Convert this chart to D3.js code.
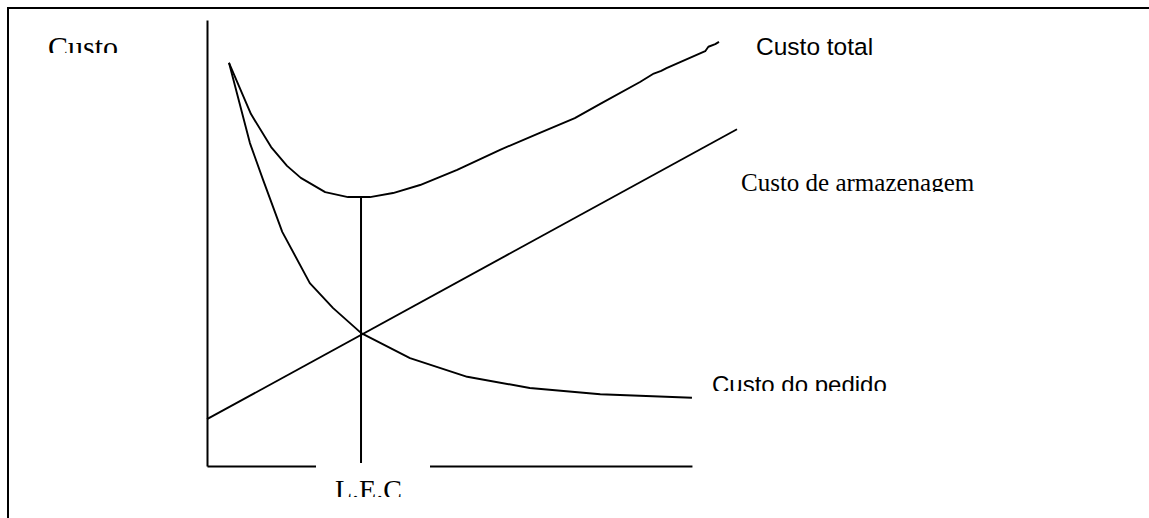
<!DOCTYPE html>
<html lang="pt">
<head>
<meta charset="utf-8">
<title>Lote economico de compra</title>
<script src="https://d3js.org/d3.v7.min.js"></script>
<style>
  body { margin: 0; background: #fff; }
  .serif { font-family: "Liberation Serif", "Times New Roman", serif; }
  .sans { font-family: "Liberation Sans", Arial, sans-serif; }
</style>
</head>
<body>
<script>
// quantity (x) and cost (y), arbitrary units 0..100
var totalQ  = [4.15, 8.3, 12.1, 15.1, 17.7, 22.3, 26.6, 30.75, 35.1, 40.2, 47.2, 55.3, 62.8, 69.4, 74.2, 81.7, 84.3, 85.7, 86.7, 94.0, 94.6, 95.9, 96.6];
var totalC  = [90.4, 78.9, 71.5, 67.3, 64.6, 61.4, 60.3, 60.3, 61.2, 63.0, 66.4, 70.9, 74.7, 78.0, 81.2, 86.1, 88.0, 88.6, 89.2, 93.0, 94.0, 94.6, 95.1];

var orderQ  = [4.15, 8.1, 10.6, 14.2, 19.4, 23.8, 29.1, 38.3, 49.1, 60.9, 74.2, 91.5];
var orderC  = [90.4, 72.4, 64.1, 52.5, 41.0, 35.4, 29.8, 24.2, 20.0, 17.5, 16.1, 15.3];

var storeQ  = [0, 100];
var storeC  = [10.5, 75.5];

var lecQ = 29.06;   // economic order quantity
var lecMin = 60.3;  // total cost at L.E.C

var labels = ["Custo", "Custo total", "Custo de armazenagem", "Custo do pedido", "L.E.C"];

var w = 1149, h = 518;

var svg = d3.select("body").append("svg")
  .attr("width", w)
  .attr("height", h);

var x = d3.scaleLinear().domain([0, 100]).range([207, 737]);
var y = d3.scaleLinear().domain([0, 100]).range([466, 20]);

// outer frame (top and left)
svg.append("line").attr("x1", 7).attr("x2", w).attr("y1", 8).attr("y2", 8)
  .attr("stroke", "#000").attr("stroke-width", 2);
svg.append("line").attr("x1", 8).attr("x2", 8).attr("y1", 7).attr("y2", h)
  .attr("stroke", "#000").attr("stroke-width", 2);

// axes
var yAxis = d3.axisLeft(y).tickValues([]).tickSizeOuter(0);
var gy = svg.append("g").attr("transform", "translate(" + x(0) + ",0)").call(yAxis);
gy.select(".domain").attr("stroke-width", 2);

var xAxisScale = d3.scaleLinear().domain([0, 91.5]).range([x(0), x(91.5)]);
var xAxis = d3.axisBottom(xAxisScale).tickValues([]).tickSizeOuter(0);
var gx = svg.append("g").attr("transform", "translate(0," + y(0) + ")").call(xAxis);
gx.select(".domain").attr("stroke-width", 2);

var line = d3.line().x(d => x(d[0])).y(d => y(d[1]));

function curve(qs, cs) {
  svg.append("path")
    .datum(d3.zip(qs, cs))
    .attr("d", line)
    .attr("fill", "none")
    .attr("stroke", "#000")
    .attr("stroke-width", 1.9)
    .attr("stroke-linejoin", "round");
}
curve(storeQ, storeC);
curve(orderQ, orderC);
curve(totalQ, totalC);

// vertical line at L.E.C
svg.append("line")
  .attr("x1", x(lecQ)).attr("x2", x(lecQ))
  .attr("y1", y(0)).attr("y2", y(lecMin))
  .attr("stroke", "#000").attr("stroke-width", 2);

// label box for L.E.C covers the axis
svg.append("rect")
  .attr("x", 316).attr("y", 463).attr("width", 114).attr("height", 55)
  .attr("fill", "#fff");

// clipped text boxes
var defs = svg.append("defs");
function label(txt, cls, size, tx, ty, clipY) {
  var id = "clip" + labels.indexOf(txt);
  defs.append("clipPath").attr("id", id)
    .append("rect").attr("x", 0).attr("y", 0).attr("width", w).attr("height", clipY);
  svg.append("text")
    .attr("class", cls)
    .attr("clip-path", "url(#" + id + ")")
    .attr("x", tx).attr("y", ty)
    .attr("font-size", size)
    .attr("fill", "#000")
    .text(txt);
}
label(labels[0], "serif", 30, 48, 57, 53);
label(labels[1], "sans", 24.5, 756, 55, h);
label(labels[2], "serif", 25, 741, 191, 192);
label(labels[3], "sans", 24, 712, 393, 391);
label(labels[4], "serif", 28, 335, 499, 497);
</script>
</body>
</html>
